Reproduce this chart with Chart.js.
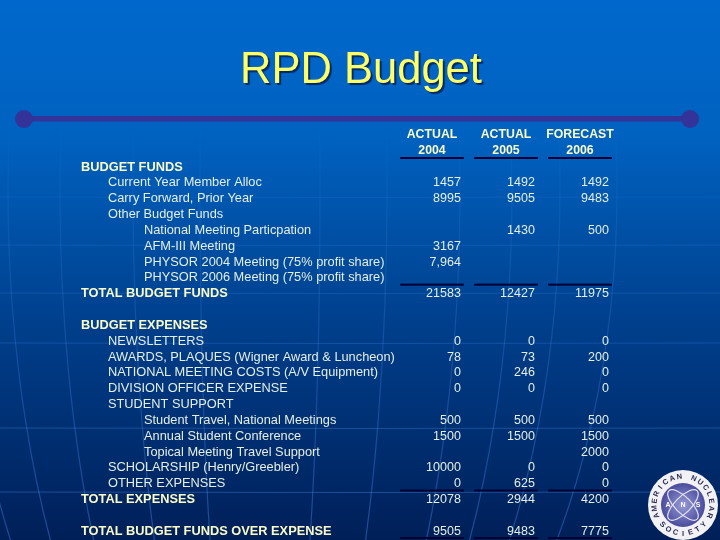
<!DOCTYPE html>
<html lang="en">
<head>
  <meta charset="UTF-8" />
  <title>RPD Budget</title>
  <style>
    body, html { margin: 0; padding: 0; background: #003a8c; }
    canvas { display: block; }
  </style>
  <script src="https://cdn.jsdelivr.net/npm/chart.js"></script>
</head>
<body>
<canvas id="budget" width="720" height="540"></canvas>

<script>
  const titleText = 'RPD Budget';
  const columns = [['ACTUAL', '2004'], ['ACTUAL', '2005'], ['FORECAST', '2006']];

  const rowLabels = [
    'BUDGET FUNDS',
    'Current Year Member Alloc',
    'Carry Forward, Prior Year',
    'Other Budget Funds',
    'National Meeting Particpation',
    'AFM-III Meeting',
    'PHYSOR 2004 Meeting (75% profit share)',
    'PHYSOR 2006 Meeting (75% profit share)',
    'TOTAL BUDGET FUNDS',
    '',
    'BUDGET EXPENSES',
    'NEWSLETTERS',
    'AWARDS, PLAQUES (Wigner Award & Luncheon)',
    'NATIONAL MEETING COSTS (A/V Equipment)',
    'DIVISION OFFICER EXPENSE',
    'STUDENT SUPPORT',
    'Student Travel, National Meetings',
    'Annual Student Conference',
    'Topical Meeting Travel Support',
    'SCHOLARSHIP (Henry/Greebler)',
    'OTHER EXPENSES',
    'TOTAL EXPENSES',
    '',
    'TOTAL BUDGET FUNDS OVER EXPENSE'
  ];
  // 0 = heading, 1 = item, 2 = sub item
  const rowLevels = [0, 1, 1, 1, 2, 2, 2, 2, 0, 0, 0, 1, 1, 1, 1, 1, 2, 2, 2, 1, 1, 0, 0, 0];

  const actual2004 = [null, '1457', '8995', null, null, '3167', '7,964', null, '21583', null,
    null, '0', '78', '0', '0', null, '500', '1500', null, '10000', '0', '12078', null, '9505'];
  const actual2005 = [null, '1492', '9505', null, '1430', null, null, null, '12427', null,
    null, '0', '73', '246', '0', null, '500', '1500', null, '0', '625', '2944', null, '9483'];
  const forecast2006 = [null, '1492', '9483', null, '500', null, null, null, '11975', null,
    null, '0', '200', '0', '0', null, '500', '1500', '2000', '0', '0', '4200', null, '7775'];
  const seriesValues = [actual2004, actual2005, forecast2006];

  // rows that have a rule above them, the last one closes the table
  const ruleRows = [0, 8, 21, 24];

  const meridians = [60, 127, 200, 252, 300, 357];
  const latitudes = [197, 245, 293, 343, 428, 492];

  const BODY = '12.8px "Liberation Sans", Arial, sans-serif';
  const BOLD = 'bold 12.8px "Liberation Sans", Arial, sans-serif';
  const VALUE = '12.5px "Liberation Sans", Arial, sans-serif';

  function drawBackground(ctx) {
    const bg = ctx.createLinearGradient(0, 0, 0, 540);
    bg.addColorStop(0, '#0068cc');
    bg.addColorStop(0.25, '#0062c0');
    bg.addColorStop(0.6, '#003f8c');
    bg.addColorStop(1, '#001f58');
    ctx.fillStyle = bg;
    ctx.fillRect(0, 0, 720, 540);

    // globe lines, almost gone at the top and clearer towards the bottom
    const line = ctx.createLinearGradient(0, 120, 0, 540);
    line.addColorStop(0, 'rgba(70,140,235,0)');
    line.addColorStop(0.2, 'rgba(70,140,235,0.14)');
    line.addColorStop(1, 'rgba(70,140,235,0.42)');
    ctx.lineWidth = 1.2;
    ctx.strokeStyle = line;
    latitudes.forEach(y => {
      ctx.beginPath();
      ctx.moveTo(0, y);
      ctx.quadraticCurveTo(360, y + 1, 720, y);
      ctx.stroke();
    });
    meridians.forEach(rx => {
      ctx.beginPath();
      ctx.ellipse(260, 190, rx, 630, 0, 0, Math.PI * 2);
      ctx.stroke();
    });
  }

  function drawTitle(ctx) {
    ctx.save();
    ctx.font = '43.5px "Liberation Sans", Arial, sans-serif';
    ctx.textAlign = 'center';
    ctx.textBaseline = 'alphabetic';
    ctx.shadowColor = 'rgba(0,20,70,0.75)';
    ctx.shadowOffsetX = 2;
    ctx.shadowOffsetY = 2;
    ctx.shadowBlur = 1;
    ctx.fillStyle = '#ffff66';
    ctx.fillText(titleText, 361, 83);
    ctx.restore();

    ctx.fillStyle = '#333399';
    ctx.fillRect(24, 116, 666, 5.5);
    [24, 690].forEach(x => {
      ctx.beginPath();
      ctx.arc(x, 119, 9, 0, Math.PI * 2);
      ctx.fill();
    });
  }

  function arcText(ctx, text, cx, cy, r, middle, step, flip) {
    [...text].forEach((ch, i) => {
      const a = middle + (i - (text.length - 1) / 2) * step * (flip ? -1 : 1);
      ctx.save();
      ctx.translate(cx + r * Math.cos(a), cy + r * Math.sin(a));
      ctx.rotate(flip ? a - Math.PI / 2 : a + Math.PI / 2);
      ctx.fillText(ch, 0, 0);
      ctx.restore();
    });
  }

  function drawLogo(ctx) {
    const cx = 683, cy = 505;
    ctx.save();
    ctx.fillStyle = '#f2f2f4';
    ctx.beginPath();
    ctx.arc(cx, cy, 35, 0, Math.PI * 2);
    ctx.fill();
    const disc = ctx.createRadialGradient(cx, cy, 3, cx, cy, 22);
    disc.addColorStop(0, '#8d8fd0');
    disc.addColorStop(1, '#4a4c9c');
    ctx.fillStyle = disc;
    ctx.beginPath();
    ctx.arc(cx, cy, 22, 0, Math.PI * 2);
    ctx.fill();

    ctx.strokeStyle = '#e4e4f4';
    ctx.lineWidth = 1.2;
    [Math.PI / 4, -Math.PI / 4].forEach(rot => {
      ctx.beginPath();
      ctx.ellipse(cx, cy, 20, 8, rot, 0, Math.PI * 2);
      ctx.stroke();
    });

    ctx.fillStyle = '#ffffff';
    ctx.font = 'bold 7px "Liberation Sans", sans-serif';
    ctx.textAlign = 'center';
    ctx.textBaseline = 'middle';
    ctx.fillText('A', cx - 15, cy);
    ctx.fillText('N', cx, cy);
    ctx.fillText('S', cx + 15, cy);

    ctx.fillStyle = '#2b2b55';
    ctx.font = 'bold 7.5px "Liberation Sans", sans-serif';
    arcText(ctx, 'AMERICAN NUCLEAR', cx, cy, 28.5, -Math.PI / 2, 0.26, false);
    arcText(ctx, 'SOCIETY', cx, cy, 28.5, Math.PI / 2, 0.27, true);
    ctx.restore();
  }

  const tablePlugin = {
    id: 'budgetTable',
    beforeDraw(chart) {
      const ctx = chart.ctx;
      drawBackground(ctx);
      drawTitle(ctx);
      drawLogo(ctx);
    },
    afterDatasetsDraw(chart) {
      const ctx = chart.ctx;
      const x = chart.scales.x;
      const y = chart.scales.y;
      const band = y.getPixelForValue(1) - y.getPixelForValue(0);
      const colBand = x.getPixelForValue(1) - x.getPixelForValue(0);
      ctx.save();
      ctx.textBaseline = 'middle';

      // row labels, indented by level
      ctx.textAlign = 'left';
      rowLabels.forEach((label, i) => {
        const level = rowLevels[i];
        ctx.font = level === 0 ? BOLD : BODY;
        ctx.fillStyle = level === 0 ? '#fbfbc8' : '#e4eee2';
        ctx.fillText(label, [81, 108, 144][level], y.getPixelForValue(i) + 1.2);
      });

      // values, right aligned under each column
      ctx.textAlign = 'right';
      ctx.font = VALUE;
      ctx.fillStyle = '#e4eee2';
      seriesValues.forEach((values, c) => {
        values.forEach((v, i) => {
          if (v !== null) {
            ctx.fillText(v, x.getPixelForValue(c) + colBand * 0.39, y.getPixelForValue(i) + 1.2);
          }
        });
      });

      // rules above the total rows
      ctx.fillStyle = '#000033';
      ruleRows.forEach(r => {
        const top = y.getPixelForValue(0) + band * (r - 0.5);
        columns.forEach((col, c) => {
          const mid = x.getPixelForValue(c);
          ctx.fillRect(mid - colBand * 0.43, top - 1, colBand * 0.86, 2);
        });
      });
      ctx.restore();
    }
  };

  new Chart(document.getElementById('budget'), {
    type: 'scatter',
    data: {
      datasets: seriesValues.map((values, c) => ({
        label: columns[c].join(' '),
        data: values.map((v, i) => (v === null ? null : { x: c, y: i })),
        pointRadius: 0,
        showLine: false
      }))
    },
    options: {
      responsive: false,
      animation: false,
      layout: { padding: { left: 0, top: 0, right: 103, bottom: 2 } },
      plugins: {
        legend: { display: false },
        title: { display: false },
        tooltip: { enabled: false }
      },
      scales: {
        x: {
          type: 'category',
          position: 'top',
          labels: columns,
          offset: true,
          afterFit(scale) { scale.height = 158; },
          grid: { display: false, drawTicks: false },
          border: { display: false },
          ticks: {
            color: '#fbfbc8',
            maxRotation: 0,
            autoSkip: false,
            padding: -1,
            font: { family: '"Liberation Sans", Arial, sans-serif', size: 12.3, weight: 'bold', lineHeight: 1.3 }
          }
        },
        y: {
          type: 'category',
          labels: rowLabels.map((l, i) => l || ' '.repeat(i)),
          offset: true,
          afterFit(scale) { scale.width = 395; },
          grid: { display: false, drawTicks: false },
          border: { display: false },
          ticks: { display: false, autoSkip: false }
        }
      }
    },
    plugins: [tablePlugin]
  });
</script>
</body>
</html>
